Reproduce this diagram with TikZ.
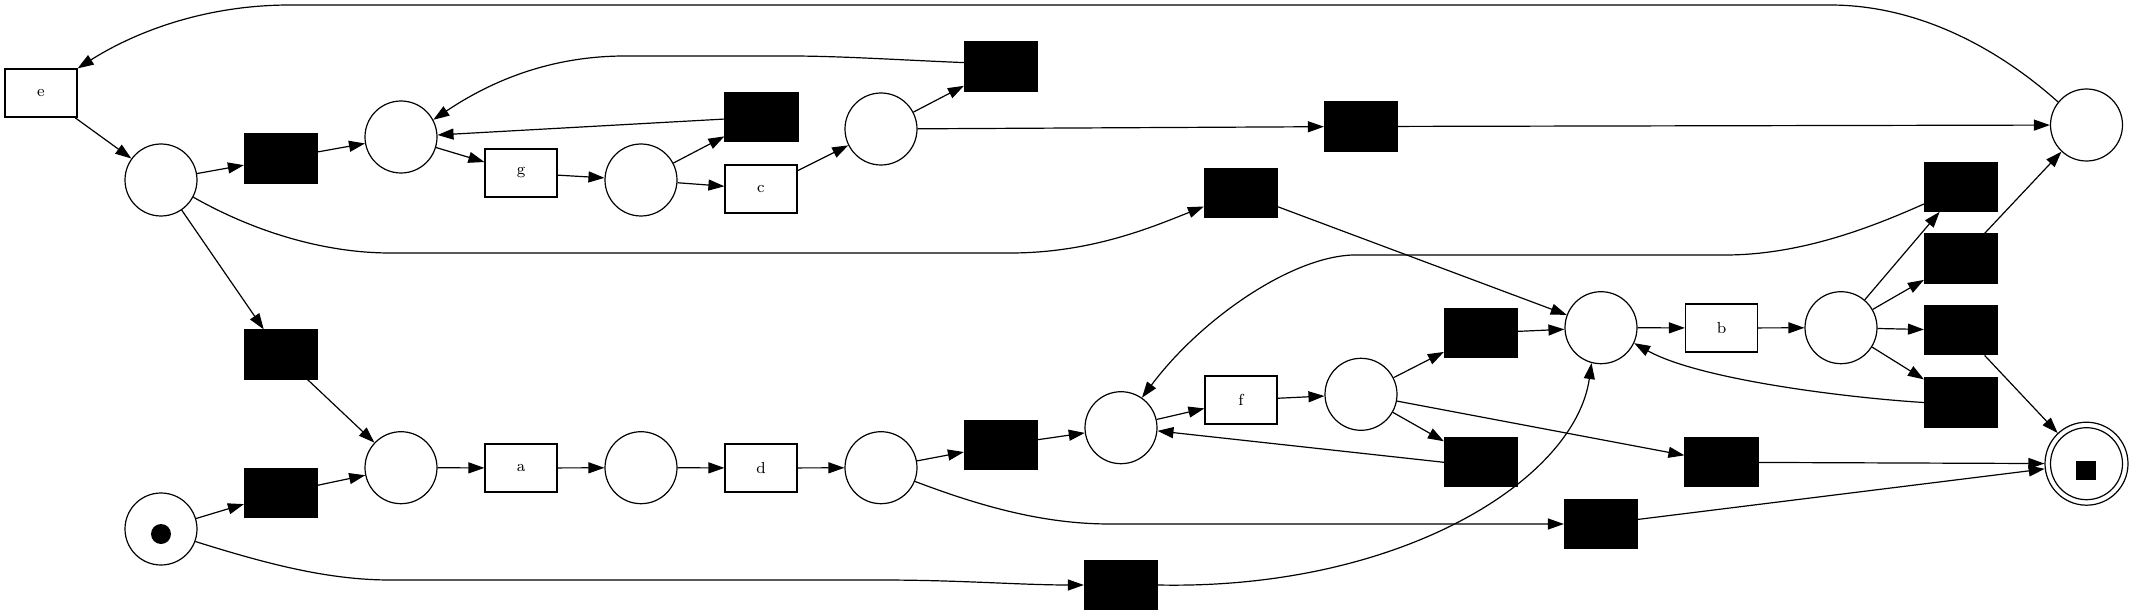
\documentclass[tikz,border=0pt]{standalone}
\usetikzlibrary{arrows.meta}
\begin{document}
\begin{tikzpicture}[x=0.5pt,y=-0.5pt,
  place/.style={circle,draw,line width=0.6pt,minimum size=36pt,inner sep=0pt},
  lab/.style={rectangle,draw,line width=0.6pt,minimum width=36pt,minimum height=24pt,inner sep=0pt,font=\fontsize{8}{9}\selectfont},
  blk/.style={rectangle,draw,fill=black,line width=0.6pt,minimum width=36.5pt,minimum height=24.5pt,inner sep=0pt},
  arc/.style={draw,line width=0.6pt,-{Triangle[length=8pt,width=5.5pt]}}]
\useasboundingbox (0,0) rectangle (2133,615);
% nodes
\node[lab] (e) at (41,93) {e};
\node[place] (p1) at (161,180) {};
\node[blk] (t1) at (281,158.5) {};
\node[place] (p2) at (401,137) {};
\node[lab] (g) at (521,173) {g};
\node[place] (p3) at (641,180) {};
\node[blk] (t5) at (761.5,117) {};
\node[lab] (c) at (761,189) {c};
\node[place] (p6) at (881,129) {};
\node[blk] (t4) at (1001,66.5) {};
\node[blk] (t6) at (1361,126.5) {};
\node[blk] (t7) at (1241,193) {};
\node[place] (p10) at (2086.5,125) {};
\node[blk] (t2) at (281,354.5) {};
\node[place] (p4) at (401,467.7) {};
\node[lab] (a) at (521,468) {a};
\node[place] (p5) at (641,467.7) {};
\node[lab] (d) at (761,468) {d};
\node[place] (p7) at (881,467.7) {};
\node[blk] (t8) at (1001,445) {};
\node[place] (p8) at (1121,427.7) {};
\node[lab] (f) at (1241,400) {f};
\node[place] (p9) at (1361,394.3) {};
\node[blk] (t14) at (1481,333) {};
\node[blk] (t15) at (1481,462.3) {};
\node[place] (p11) at (1601,327.7) {};
\node[lab] (b) at (1721.5,328) {b};
\node[place] (p12) at (1841,327.7) {};
\node[blk] (t10) at (1961,186.7) {};
\node[blk] (t11) at (1961,258.5) {};
\node[blk] (t12) at (1961,330.3) {};
\node[blk] (t13) at (1961,402.5) {};
\node[blk] (t16) at (1721.5,462.3) {};
\node[blk] (t17) at (1601,524) {};
\node[blk] (t9) at (1121,585) {};
\node[place] (start) at (161,529) {};
\node[blk] (t3) at (281,493) {};
\node[circle,fill=black,minimum size=10pt,inner sep=0pt] (tok) at (161,534) {};
\node[circle,draw,line width=0.6pt,minimum size=41.5pt,inner sep=0pt] (endp) at (2086.5,463.7) {};
\node[place] (endin) at (2086.5,463.7) {};
\node[rectangle,fill=black,minimum width=10pt,minimum height=9.5pt,inner sep=0pt] (endtok) at (2085.7,470.3) {};
% straight arcs
\draw[arc] (e) -- (p1);
\draw[arc] (p1) -- (t1);
\draw[arc] (t1) -- (p2);
\draw[arc] (p2) -- (g);
\draw[arc] (g) -- (p3);
\draw[arc] (p3) -- (t5);
\draw[arc] (p3) -- (c);
\draw[arc] (t5) -- (p2);
\draw[arc] (c) -- (p6);
\draw[arc] (p6) -- (t4);
\draw[arc] (p6) -- (t6);
\draw[arc] (t6) -- (p10);
\draw[arc] (p1) -- (t2);
\draw[arc] (t2) -- (p4);
\draw[arc] (start) -- (t3);
\draw[arc] (t3) -- (p4);
\draw[arc] (p4) -- (a);
\draw[arc] (a) -- (p5);
\draw[arc] (p5) -- (d);
\draw[arc] (d) -- (p7);
\draw[arc] (p7) -- (t8);
\draw[arc] (t8) -- (p8);
\draw[arc] (p8) -- (f);
\draw[arc] (f) -- (p9);
\draw[arc] (p9) -- (t14);
\draw[arc] (p9) -- (t15);
\draw[arc] (p9) -- (t16);
\draw[arc] (t15.west) -- (p8.-5);
\draw[arc] (t14) -- (p11);
\draw[arc] (t7) -- (p11);
\draw[arc] (p11) -- (b);
\draw[arc] (b) -- (p12);
\draw[arc] (p12) -- (t10);
\draw[arc] (p12) -- (t11);
\draw[arc] (p12) -- (t12);
\draw[arc] (p12) -- (t13);
\draw[arc] (t11) -- (p10);
\draw[arc] (t12) -- (endp);
\draw[arc] (t16) -- (endp);
\draw[arc] (t17) -- (endp);
% curved arcs
\draw[arc] (p10.141) .. controls (2000,50) and (1920,5) .. (1830,5) -- (290,5) .. controls (200,5) and (130,35) .. (e.north east);
\draw[arc] (t4.174) .. controls (900,60) and (840,56) .. (790,56) -- (625,56) .. controls (560,56) and (500,75) .. (p2.28);
\draw[arc] (p1.-28) .. controls (260,235) and (330,253) .. (390,253) -- (1010,253) .. controls (1090,253) and (1150,228) .. (t7.200);
\draw[arc] (t10.205) .. controls (1870,228) and (1800,255) .. (1725,255) -- (1353,255) .. controls (1290,257) and (1200,320) .. (p8.55);
\draw[arc] (t13.west) .. controls (1850,398) and (1700,380) .. (p11.-25);
\draw[arc] (p7.-22) .. controls (990,510) and (1050,524) .. (1110,524) -- (t17.west);
\draw[arc] (start.-20) .. controls (270,565) and (330,580) .. (390,580) -- (880,580) .. controls (960,580) and (1020,585) .. (t9.west);
\draw[arc] (t9.east) .. controls (1400,590) and (1575,480) .. (p11.-105);
\end{tikzpicture}
\end{document}
